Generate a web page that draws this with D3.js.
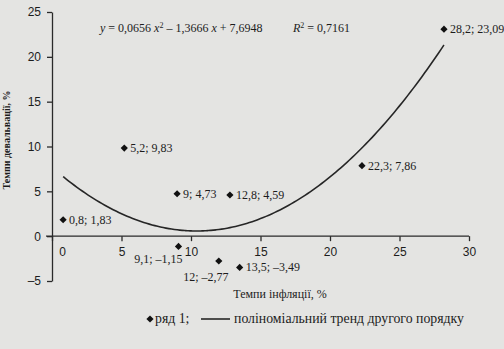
<!DOCTYPE html>
<html>
<head>
<meta charset="utf-8">
<script src="https://cdn.jsdelivr.net/npm/d3@7"></script>
<style>
  body { margin: 0; background: #e4e4e2; }
  svg { display: block; font-family: "Liberation Serif", "DejaVu Serif", serif; }
  .axis text { font-size: 12px; fill: #1c1c1c; }
  .axis path, .axis line { stroke: #2a2a2a; stroke-width: 1.3; }
  .lbl { font-size: 12px; fill: #1c1c1c; }
</style>
</head>
<body>
<div id="chart"></div>
<script>
// inflation (x) and devaluation (y) rates, %
var inflation   = [0.8, 5.2, 9, 9.1, 12, 12.8, 13.5, 22.3, 28.2];
var devaluation = [1.83, 9.83, 4.73, -1.15, -2.77, 4.59, -3.49, 7.86, 23.09];
// where each point label sits relative to its marker
var labelSide   = ['right', 'right', 'right', 'belowLeft', 'below', 'right', 'right', 'right', 'right'];
var xTicks = [0, 5, 10, 15, 20, 25, 30];
var yTicks = [-5, 0, 5, 10, 15, 20, 25];
// polynomial trend coefficients: y = a x^2 + b x + c
var trendA = 0.0656, trendB = -1.3666, trendC = 7.6948;

var width = 504, height = 349;

var svg = d3.select('#chart').append('svg')
  .attr('width', width)
  .attr('height', height);

var x = d3.scaleLinear().domain([0, 30]).range([52, 469]);
var y = d3.scaleLinear().domain([-5, 25]).range([281, 12]);

function fmt(v) {
  return String(v).replace('.', ',').replace('-', '\u2013');
}

//x axis crosses at y = 0
var xAxis = svg.append('g')
  .attr('class', 'axis')
  .attr('transform', 'translate(0,' + y(0) + ')')
  .call(d3.axisBottom(x).tickValues(xTicks).tickSize(5).tickSizeOuter(0).tickPadding(6).tickFormat(d3.format('d')));
xAxis.select('.domain').attr('d', 'M' + (x(0) - 6) + ',0H' + x(30));
// zero label is pushed off the y axis
xAxis.selectAll('.tick text').filter(function (d) { return d === 0; }).attr('dx', 10);

svg.append('g')
  .attr('class', 'axis')
  .attr('transform', 'translate(' + x(0) + ',0)')
  .call(d3.axisLeft(y).tickValues(yTicks).tickSize(5).tickSizeOuter(0).tickPadding(6)
    .tickFormat(function (d) { return fmt(d); }));

//trend curve between the first and last observation
var xs = d3.range(d3.min(inflation), d3.max(inflation) + 0.001, 0.2);
svg.append('path')
  .datum(xs)
  .attr('fill', 'none')
  .attr('stroke', '#262626')
  .attr('stroke-width', 1.6)
  .attr('d', d3.line()
    .x(function (d) { return x(d); })
    .y(function (d) { return y(trendA * d * d + trendB * d + trendC); })
    .curve(d3.curveBasis));

var points = inflation.map(function (v, i) {
  return { x: v, y: devaluation[i], side: labelSide[i] };
});

var diamond = d3.symbol().type(d3.symbolSquare).size(26);
svg.selectAll('.pt')
  .data(points)
  .enter().append('path')
    .attr('class', 'pt')
    .attr('d', diamond)
    .attr('fill', '#111')
    .attr('transform', function (d) { return 'translate(' + x(d.x) + ',' + y(d.y) + ') rotate(45)'; });

svg.selectAll('.ptLabel')
  .data(points)
  .enter().append('text')
    .attr('class', 'lbl ptLabel')
    .text(function (d) { return fmt(d.x) + '; ' + fmt(d.y); })
    .attr('x', function (d) {
      if (d.side === 'belowLeft') return x(d.x) + 4;
      if (d.side === 'below') return x(d.x) - 13;
      return x(d.x) + 6;
    })
    .attr('y', function (d) {
      if (d.side === 'belowLeft') return y(d.y) + 17;
      if (d.side === 'below') return y(d.y) + 20;
      return y(d.y) + 4;
    })
    .style('text-anchor', function (d) {
      if (d.side === 'belowLeft') return 'end';
      if (d.side === 'below') return 'middle';
      return 'start';
    });

//trend equation and R^2
var eq = svg.append('text').attr('class', 'lbl').attr('x', 100).attr('y', 32);
eq.append('tspan').style('font-style', 'italic').text('y');
eq.append('tspan').text(' = 0,0656 ');
eq.append('tspan').style('font-style', 'italic').text('x');
eq.append('tspan').attr('dy', -4).style('font-size', '8px').text('2');
eq.append('tspan').attr('dy', 4).text(' \u2013 1,3666 ');
eq.append('tspan').style('font-style', 'italic').text('x');
eq.append('tspan').text(' + 7,6948');

var r2 = svg.append('text').attr('class', 'lbl').attr('x', 293).attr('y', 32);
r2.append('tspan').style('font-style', 'italic').text('R');
r2.append('tspan').attr('dy', -4).style('font-size', '8px').text('2');
r2.append('tspan').attr('dy', 4).text(' = 0,7161');

//axis titles
svg.append('text')
  .attr('class', 'lbl')
  .attr('transform', 'translate(10,140) rotate(-90)')
  .style('text-anchor', 'middle')
  .style('font-weight', 'bold')
  .style('font-size', '10px')
  .text('Темпи девальвації, %');

svg.append('text')
  .attr('class', 'lbl')
  .attr('x', 280)
  .attr('y', 298)
  .style('text-anchor', 'middle')
  .text('Темпи інфляції, %');

//legend
var leg = svg.append('g').attr('transform', 'translate(0,319)');
leg.append('path')
  .attr('d', diamond)
  .attr('fill', '#111')
  .attr('transform', 'translate(150,0) rotate(45)');
leg.append('text').attr('class', 'lbl').style('font-size', '13.8px').attr('x', 155).attr('y', 4).text('ряд 1;');
leg.append('line')
  .attr('x1', 201).attr('x2', 230)
  .attr('y1', 0).attr('y2', 0)
  .attr('stroke', '#262626')
  .attr('stroke-width', 1.6);
leg.append('text').attr('class', 'lbl').style('font-size', '13.8px').attr('x', 234).attr('y', 4).text('поліноміальний тренд другого порядку');
</script>
</body>
</html>
